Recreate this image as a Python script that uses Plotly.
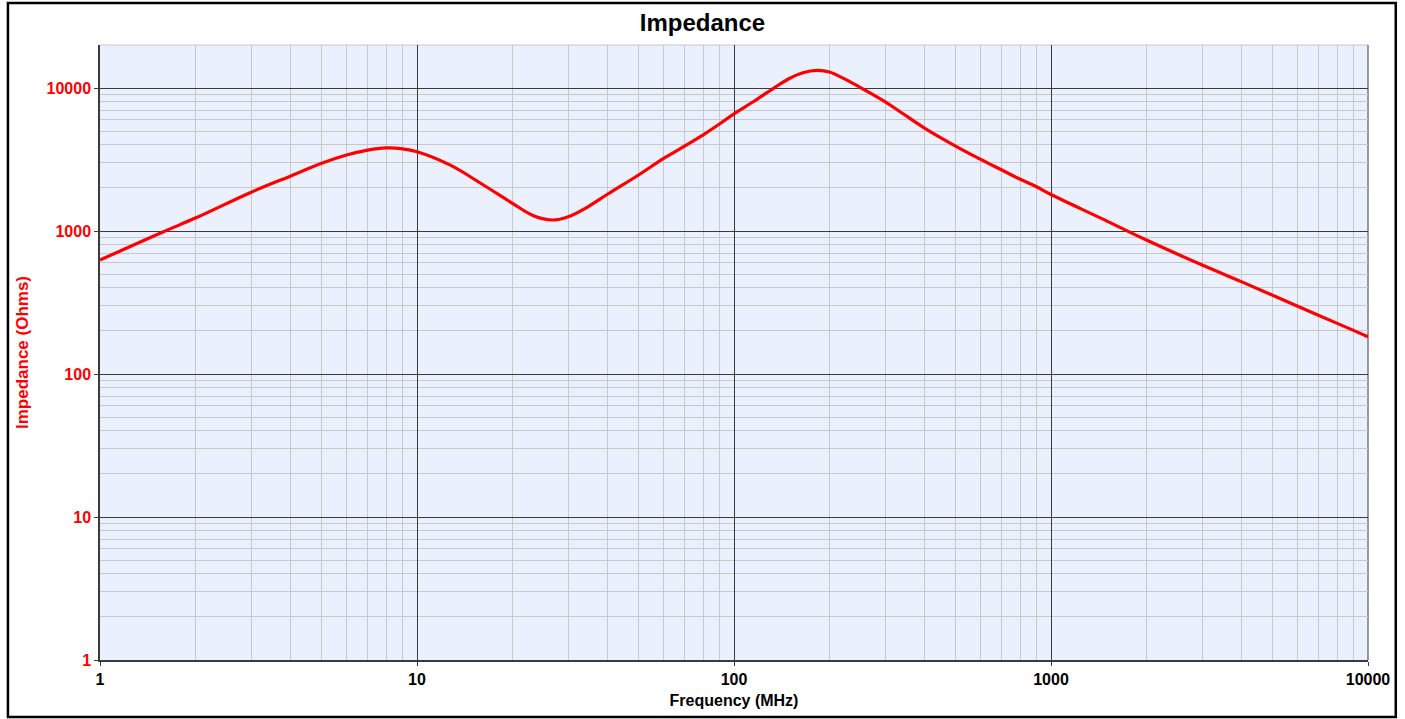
import plotly.graph_objects as go

freq_mhz = [1, 1.58, 2, 3, 4, 5, 6, 7, 8, 9, 10, 12.7, 16.2, 20, 23.3, 26.7, 30, 34.4,
            40, 50, 60, 70, 80, 90, 100, 115, 133.6, 150, 165, 183, 200, 227, 252, 300, 335,
            400, 500, 600, 700, 800, 900, 1000, 1436, 2000, 3000, 4000, 5000, 6000, 7000,
            8000, 9000, 10000]
impedance_ohms = [627, 985, 1232, 1870, 2430, 2980, 3400, 3680, 3810, 3760, 3590, 2900, 2099,
                  1563, 1279, 1194, 1259, 1466, 1815, 2465, 3220, 3940, 4710, 5600, 6600,
                  8020, 10000, 11700, 12800, 13280, 12950, 11370, 10000, 8000, 6800, 5230,
                  3930, 3170, 2670, 2300, 2040, 1800, 1230, 865, 578, 441, 356, 298, 257,
                  226, 202, 182]

x_tick_vals = [1, 10, 100, 1000, 10000]
x_tick_text = ["1", "10", "100", "1000", "10000"]
y_tick_vals = [1, 10, 100, 1000, 10000]
y_tick_text = ["1", "10", "100", "1000", "10000"]

FONT = "Liberation Sans, Arial, sans-serif"
MAJOR = "#3a3a3a"
MINOR = "#c6c8cc"

fig = go.Figure()
fig.add_trace(go.Scatter(
    x=freq_mhz, y=impedance_ohms, mode="lines",
    line=dict(color="#ff0000", width=3.2, shape="spline", smoothing=1.0),
    showlegend=False, hoverinfo="x+y",
))

fig.update_layout(
    width=1405, height=719,
    margin=dict(l=100, r=37, t=45, b=59),
    paper_bgcolor="white",
    plot_bgcolor="#ebf1fc",
    title=dict(text="<b>Impedance</b>", x=0.5, xref="container", xanchor="center",
               y=1 - 23 / 719, yref="container", yanchor="middle",
               font=dict(family=FONT, size=24, color="black")),
    xaxis=dict(
        type="log", range=[0, 4],
        tickvals=x_tick_vals, ticktext=x_tick_text,
        tickfont=dict(family=FONT, size=16, color="black", weight="bold"),
        ticks="outside", ticklen=4, tickcolor=MAJOR,
        showgrid=True, gridcolor=MAJOR, gridwidth=1,
        minor=dict(dtick="D1", showgrid=True, gridcolor=MINOR, gridwidth=1, ticks=""),
        showline=True, linecolor=MAJOR, linewidth=1.5,
        zeroline=False,
        title=dict(text="<b>Frequency (MHz)</b>", standoff=8,
                   font=dict(family=FONT, size=16, color="black")),
    ),
    yaxis=dict(
        type="log", range=[0, 4.30103],
        tickvals=y_tick_vals, ticktext=y_tick_text,
        tickfont=dict(family=FONT, size=16, color="#ff0000", weight="bold"),
        ticks="outside", ticklen=4, tickcolor=MAJOR,
        showgrid=True, gridcolor=MAJOR, gridwidth=1,
        minor=dict(dtick="D1", showgrid=True, gridcolor=MINOR, gridwidth=1, ticks=""),
        showline=True, linecolor=MAJOR, linewidth=1.5,
        zeroline=False,
        title=dict(text="<b>Impedance (Ohms)</b>", standoff=14,
                   font=dict(family=FONT, size=17, color="#ff0000")),
    ),
    shapes=[
        dict(type="rect", xref="paper", yref="paper",
             x0=-0.0726, x1=1.0219, y0=-0.0927, y1=1.0683,
             line=dict(color="black", width=2.5), fillcolor="rgba(0,0,0,0)", layer="above"),
        dict(type="line", xref="paper", yref="paper", x0=0, x1=1, y0=1, y1=1,
             line=dict(color=MINOR, width=1), layer="below"),
        dict(type="line", xref="paper", yref="paper", x0=1, x1=1, y0=0, y1=1,
             line=dict(color=MAJOR, width=1), layer="below"),
    ],
)

fig.write_html(
    "out.html",
    config={"displayModeBar": False},
    post_script="document.body.style.margin='0';document.body.style.overflow='hidden';",
)
